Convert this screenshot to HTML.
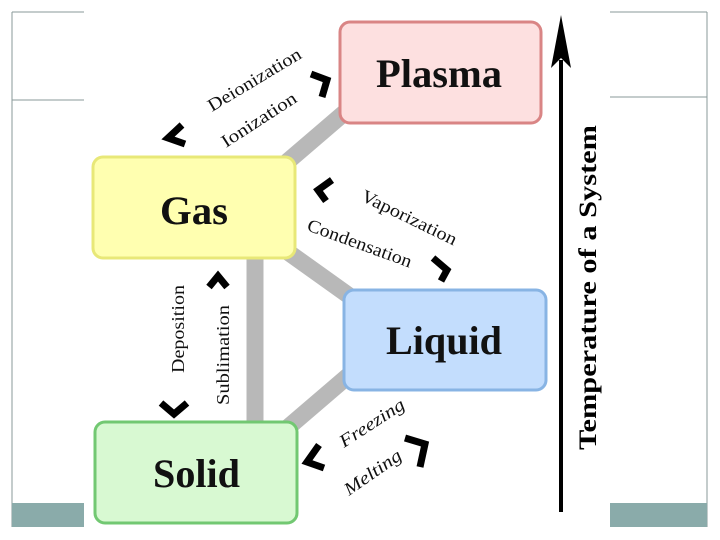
<!DOCTYPE html>
<html><head><style>
body{margin:0;width:720px;height:540px;background:#fff;overflow:hidden;font-family:"Liberation Serif",serif}
</style></head><body>
<svg width="720" height="540" xmlns="http://www.w3.org/2000/svg" style="position:absolute;left:0;top:0">
<g stroke="#8a9a9a" stroke-width="1">
<line x1="12" y1="12" x2="12" y2="527"/><line x1="12" y1="12" x2="84" y2="12"/><line x1="12" y1="100" x2="84" y2="100"/>
<line x1="707" y1="12" x2="707" y2="527"/><line x1="610" y1="12" x2="707" y2="12"/><line x1="610" y1="97" x2="707" y2="97"/>
</g>
<rect x="12" y="503" width="72" height="24" fill="#8aabaa"/>
<rect x="610" y="503" width="97" height="24" fill="#8aabaa"/>
<g stroke="#b8b8b8" stroke-width="17">
<line x1="280" y1="168" x2="350" y2="108"/>
<line x1="255" y1="250" x2="255" y2="430"/>
<line x1="285" y1="250" x2="355" y2="300"/>
<line x1="285" y1="430" x2="355" y2="370"/>
</g>
<rect x="340" y="22" width="201" height="101" rx="10" fill="#fde0e0" stroke="#d98585" stroke-width="3"/>
<rect x="93" y="157" width="202" height="101" rx="10" fill="#ffffb0" stroke="#e8e878" stroke-width="3"/>
<rect x="344" y="290" width="202" height="100" rx="10" fill="#c3ddfd" stroke="#88b4e4" stroke-width="3"/>
<rect x="95" y="422" width="202" height="101" rx="10" fill="#d8f9d2" stroke="#72c872" stroke-width="3"/>
<g font-weight="bold" font-size="40" fill="#111" lengthAdjust="spacingAndGlyphs">
<text x="376" y="87" textLength="126" lengthAdjust="spacingAndGlyphs">Plasma</text>
<text x="160" y="224" textLength="68" lengthAdjust="spacingAndGlyphs">Gas</text>
<text x="386" y="354" textLength="116" lengthAdjust="spacingAndGlyphs">Liquid</text>
<text x="153" y="487" textLength="87" lengthAdjust="spacingAndGlyphs">Solid</text>
</g>
<line x1="561" y1="60" x2="561" y2="512" stroke="#000" stroke-width="4"/>
<path d="M561 15 L571 68 L561 58 L551 68 Z" fill="#000"/>
<text transform="translate(596,450) rotate(-90)" font-size="25" font-weight="bold" textLength="325" lengthAdjust="spacingAndGlyphs">Temperature of a System</text>
<g font-size="18" fill="#111">
<text transform="translate(212,112) rotate(-31)" textLength="106" lengthAdjust="spacingAndGlyphs">Deionization</text>
<text transform="translate(226,148) rotate(-33)" textLength="86" lengthAdjust="spacingAndGlyphs">Ionization</text>
<text transform="translate(360,200) rotate(26)" textLength="104" lengthAdjust="spacingAndGlyphs">Vaporization</text>
<text transform="translate(306,230) rotate(20)" textLength="110" lengthAdjust="spacingAndGlyphs">Condensation</text>
<text transform="translate(184,373) rotate(-90)" textLength="88" lengthAdjust="spacingAndGlyphs">Deposition</text>
<text transform="translate(229,405) rotate(-90)" textLength="100" lengthAdjust="spacingAndGlyphs">Sublimation</text>
<text transform="translate(344,448) rotate(-33)" font-style="italic" textLength="74" lengthAdjust="spacingAndGlyphs">Freezing</text>
<text transform="translate(349,496) rotate(-35)" font-style="italic" textLength="66" lengthAdjust="spacingAndGlyphs">Melting</text>
</g>
<g fill="none" stroke="#000" stroke-width="7" stroke-linejoin="miter">
<path d="M311 74 L327 80 L322 97"/>
<path d="M182 125 L168 138 L185 144"/>
<path d="M332 180 L318 190 L326 201"/>
<path d="M433 258 L447 270 L441 281"/>
<path d="M209 287 L218 276 L227 287"/>
<path d="M161 403 L174 414 L187 403"/>
<path d="M319 445 L307 462 L324 468"/>
<path d="M405 438 L425 444 L420 467"/>
</g>
</svg>
</body></html>
